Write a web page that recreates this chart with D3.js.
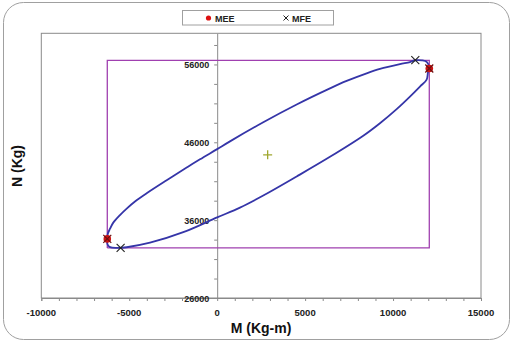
<!DOCTYPE html>
<html><head><meta charset="utf-8">
<script src="https://cdn.jsdelivr.net/npm/d3@7"></script>
<style>html,body{margin:0;padding:0;background:#fff;}svg{display:block;}</style>
</head><body><svg id="c" width="513" height="344"></svg>
<script>
// Data
const loopM = [-6248,-6225,-6094,-5907,-5526,-5145,-4673,-4008,-2871,-1734,-978,0,728,2621,4520,6413,7362,8499,9255,10392,10961,11262,11643,11927,12058,
  11984,11910,11529,10961,10205,9255,8306,6413,4520,2621,1296,0,-1927,-3820,-5145,-5713,-6094,-6236,-6248];
const loopN = [33590,34190,34900,35680,36650,37480,38390,39450,41120,42750,43810,45120,46120,48570,50850,52920,53880,54860,55420,56040,56300,56540,56520,56300,55550,
  54970,54060,53160,51870,50260,48450,46840,44130,41610,39160,37610,36350,34450,33100,32520,32440,32540,32900,33590];
const rectM = [-6248, 12060];
const rectN = [32430, 56520];
const meeM = [-6248, 12060];
const meeN = [33590, 55480];
const mfeM = [-5490, 11265];
const mfeN = [32430, 56560];
const centerM = [2870];
const centerN = [44390];
const xTicks = [-10000,-5000,0,5000,10000,15000];
const yTicks = [26000,36000,46000,56000];
const legendLabels = ["MEE","MFE"];

const svg = d3.select("#c");
const font = "'Liberation Sans', Arial, sans-serif";
svg.append("rect").attr("x",3.5).attr("y",2.5).attr("width",506).attr("height",337).attr("rx",20)
  .attr("fill","#fff").attr("stroke","#a0a0a0").attr("stroke-width",1);

const L=41.3,R=481,T=33.3,B=298;
const x = d3.scaleLinear().domain([-10000,15000]).range([L,R]);
const y = d3.scaleLinear().domain([26000,60000]).range([B,T]);

svg.append("rect").attr("x",L).attr("y",T).attr("width",R-L).attr("height",B-T)
  .attr("fill","#fff").attr("stroke","#8a8a8a").attr("stroke-width",1);

// x axis
const xa = svg.append("g").attr("transform",`translate(0,${B})`)
  .call(d3.axisBottom(x).tickValues(d3.range(-10000,15001,1000)).tickSize(3).tickFormat(""));
xa.select(".domain").attr("stroke","#8a8a8a");
xa.selectAll("line").attr("stroke","#8a8a8a");
svg.append("g").selectAll("text").data(xTicks).join("text")
  .attr("x",d=>x(d)).attr("y",316).attr("text-anchor","middle")
  .attr("font-family",font).attr("font-weight","bold").attr("font-size",9.5).attr("fill","#222")
  .text(d=>d);

// y axis at x=0
const ya = svg.append("g").attr("transform",`translate(${x(0)},0)`)
  .call(d3.axisLeft(y).tickValues(d3.range(26000,60001,2500)).tickSize(3).tickSizeOuter(0).tickFormat(""));
ya.select(".domain").attr("stroke","#8a8a8a");
ya.selectAll("line").attr("stroke","#8a8a8a");
svg.append("g").selectAll("text").data(yTicks).join("text")
  .attr("x",x(0)-8).attr("y",d=>y(d)+3.5).attr("text-anchor","end")
  .attr("font-family",font).attr("font-weight","bold").attr("font-size",9).attr("fill","#222")
  .text(d=>d);

// rectangle envelope
const rp = [[rectM[0],rectN[0]],[rectM[1],rectN[0]],[rectM[1],rectN[1]],[rectM[0],rectN[1]],[rectM[0],rectN[0]]];
svg.append("path").attr("d",d3.line().x(d=>x(d[0])).y(d=>y(d[1]))(rp))
  .attr("fill","none").attr("stroke","#a040b0").attr("stroke-width",1.3);

// loop
const pts = loopM.map((m,i)=>[m,loopN[i]]);
svg.append("path").attr("d",d3.line().x(d=>x(d[0])).y(d=>y(d[1])).curve(d3.curveCatmullRom.alpha(0.5))(pts))
  .attr("fill","none").attr("stroke","#3535a8").attr("stroke-width",1.8);

// MEE markers
const mee = meeM.map((m,i)=>[m,meeN[i]]);
svg.append("g").selectAll("circle").data(mee).join("circle")
  .attr("cx",d=>x(d[0])).attr("cy",d=>y(d[1])).attr("r",3.8).attr("fill","#cc1111");
svg.append("g").selectAll("path").data(mee).join("path")
  .attr("d",d=>{const cx=x(d[0]),cy=y(d[1]),s=4;return `M${cx-s},${cy-s}L${cx+s},${cy+s}M${cx-s},${cy+s}L${cx+s},${cy-s}`;})
  .attr("stroke","#6a1010").attr("stroke-width",1.2);

// MFE markers
const mfe = mfeM.map((m,i)=>[m,mfeN[i]]);
svg.append("g").selectAll("path").data(mfe).join("path")
  .attr("d",d=>{const cx=x(d[0]),cy=y(d[1]),s=4;return `M${cx-s},${cy-s}L${cx+s},${cy+s}M${cx-s},${cy+s}L${cx+s},${cy-s}`;})
  .attr("stroke","#222").attr("stroke-width",1.1);

// center plus
svg.append("g").selectAll("path").data(centerM.map((m,i)=>[m,centerN[i]])).join("path")
  .attr("d",d=>{const cx=x(d[0]),cy=y(d[1]),s=4.5;return `M${cx-s},${cy}L${cx+s},${cy}M${cx},${cy-s}L${cx},${cy+s}`;})
  .attr("stroke","#a0a830").attr("stroke-width",1.3);

// legend
svg.append("rect").attr("x",182.5).attr("y",10.5).attr("width",151).attr("height",14.5)
  .attr("fill","#fff").attr("stroke","#a0a0a0");
svg.append("circle").attr("cx",208.5).attr("cy",18).attr("r",2.6).attr("fill","#dd1111");
svg.append("path").attr("d","M283.5,15.5L288.5,20.5M283.5,20.5L288.5,15.5").attr("stroke","#222").attr("stroke-width",1);
svg.append("g").selectAll("text").data(legendLabels).join("text")
  .attr("x",(d,i)=>i===0?215:292).attr("y",21.5)
  .attr("font-family",font).attr("font-weight","bold").attr("font-size",9).attr("fill","#222")
  .text(d=>d);

// axis titles
svg.append("text").attr("x",261).attr("y",333).attr("text-anchor","middle")
  .attr("font-family",font).attr("font-weight","bold").attr("font-size",14).attr("fill","#111")
  .text("M (Kg-m)");
svg.append("text").attr("transform","translate(22,166) rotate(-90)").attr("text-anchor","middle")
  .attr("font-family",font).attr("font-weight","bold").attr("font-size",14).attr("fill","#111")
  .text("N (Kg)");
</script></body></html>
